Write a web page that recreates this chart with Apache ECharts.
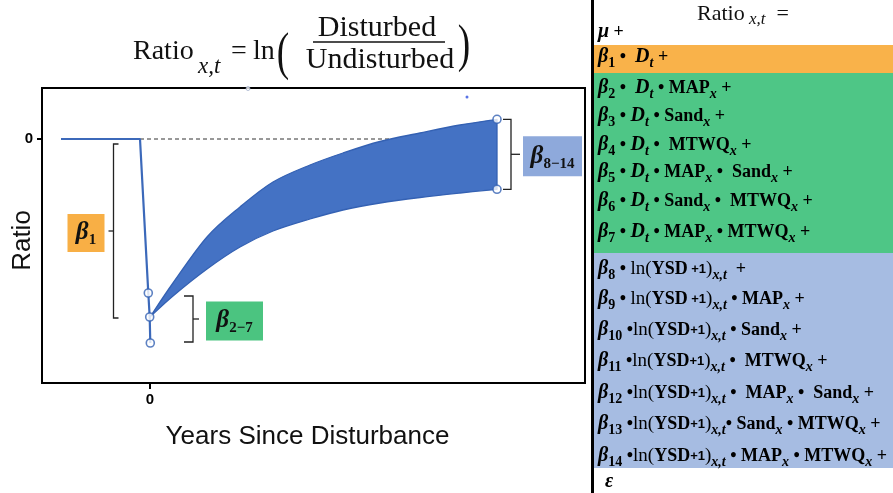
<!DOCTYPE html>
<html><head><meta charset="utf-8">
<script src="https://cdn.jsdelivr.net/npm/echarts@6/dist/echarts.min.js"></script>
<style>html,body{margin:0;padding:0;background:#fff}#c{width:893px;height:493px}</style>
</head><body><div id="c"></div>
<script>
// ---------- data ----------
const xTickValues = [0];
const yTickValues = [0];
const preYears = [-8.9, -1.0, -0.17, -0.03, 0.03];
const preRatio = [0, 0, -1.54, -1.78, -2.04];
const bandYears = [0, 2.3, 5.7, 9.0, 12.3, 16.0, 19.3, 23.0, 27.0, 31.0, 34.7];
const upperRatio = [-1.78, -1.44, -0.98, -0.68, -0.43, -0.26, -0.14, -0.025, 0.06, 0.14, 0.197];
const lowerRatio = [-1.78, -1.57, -1.30, -1.08, -0.92, -0.80, -0.71, -0.64, -0.585, -0.54, -0.503];
const markerYears = [-0.17, -0.03, 0.03, 34.7, 34.7];
const markerRatio = [-1.54, -1.78, -2.04, 0.197, -0.503];
const zeroLineYears = [-1.0, 34.7];
const bracketYears = [-3.65, 4.3, 36.1];
const bracketTop = [-0.05, -1.57, 0.197];
const bracketBottom = [-1.79, -2.03, -0.503];
const bracketSub = ['1', '2\u22127', '8\u221214'];
const strayDotYears = [31.7];
const strayDotRatio = [0.42];
const strayRingYears = [9.8];
const strayRingRatio = [0.505];

// ---------- styles ----------
const SERIF = '"Liberation Serif", "Times New Roman", serif';
const SANS = '"Liberation Sans", Arial, sans-serif';
const bracketStyle = [
  {dir: 1, serif: 5, tick: 5, gap: 4, w: 37, h: 38, color: '#F8AF45'},
  {dir: -1, serif: 9, tick: 6, gap: 7, w: 57, h: 39, color: '#4BC480'},
  {dir: -1, serif: 8, tick: 9, gap: 3, w: 59, h: 40, color: '#8EA9DB'}
];
const blueFill = '#4472C4';
const blueEdge = '#3461B3';

const zip = (a, b) => a.map((v, i) => [v, b[i]]);

// smooth path through pixel points (Catmull-Rom -> cubic Bezier)
function smoothSegs(pts) {
  let d = '';
  for (let i = 0; i < pts.length - 1; i++) {
    const p0 = pts[Math.max(i - 1, 0)], p1 = pts[i], p2 = pts[i + 1], p3 = pts[Math.min(i + 2, pts.length - 1)];
    const c1 = [p1[0] + (p2[0] - p0[0]) / 6, p1[1] + (p2[1] - p0[1]) / 6];
    const c2 = [p2[0] - (p3[0] - p1[0]) / 6, p2[1] - (p3[1] - p1[1]) / 6];
    d += ' C' + c1[0] + ',' + c1[1] + ' ' + c2[0] + ',' + c2[1] + ' ' + p2[0] + ',' + p2[1];
  }
  return d;
}

const chart = echarts.init(document.getElementById('c'), null, {renderer: 'canvas', width: 893, height: 493});

// right-panel rich text
const rowRich = {
  g: {fontFamily: SERIF, fontWeight: 'bold', fontStyle: 'italic', fontSize: 20, lineHeight: 26, fill: '#000'},
  n: {fontFamily: SERIF, fontWeight: 'bold', fontSize: 18, lineHeight: 26, fill: '#000'},
  r: {fontFamily: SERIF, fontSize: 19, lineHeight: 26, fill: '#000'},
  p: {fontFamily: SANS, fontWeight: 'bold', fontSize: 13, lineHeight: 26, fill: '#000'},
  sn: {fontFamily: SERIF, fontWeight: 'bold', fontSize: 14, verticalAlign: 'bottom', fill: '#000'},
  si: {fontFamily: SERIF, fontWeight: 'bold', fontStyle: 'italic', fontSize: 14, verticalAlign: 'bottom', fill: '#000'}
};
const t = (s, txt) => '{' + s + '|' + txt + '}';
const lnTerm = (sp) => t('r', 'ln(') + t('n', 'YSD') + t('p', sp + '+1') + t('r', ')') + t('si', 'x,t');
const D = t('g', 'D') + t('si', 't');
const B = (k) => t('g', '\u03B2') + t('sn', k);
const rows = [
  {y: 32, x: 598, text: t('g', '\u03BC') + t('n', ' +')},
  {y: 57, x: 598, text: B('1') + t('n', ' \u2022  ') + D + t('n', ' +')},
  {y: 88, x: 598, text: B('2') + t('n', ' \u2022  ') + D + t('n', ' \u2022 MAP') + t('si', 'x') + t('n', ' +')},
  {y: 116, x: 598, text: B('3') + t('n', ' \u2022 ') + D + t('n', ' \u2022 Sand') + t('si', 'x') + t('n', ' +')},
  {y: 145, x: 598, text: B('4') + t('n', ' \u2022 ') + D + t('n', ' \u2022  MTWQ') + t('si', 'x') + t('n', ' +')},
  {y: 172, x: 598, text: B('5') + t('n', ' \u2022 ') + D + t('n', ' \u2022 MAP') + t('si', 'x') + t('n', ' \u2022  Sand') + t('si', 'x') + t('n', ' +')},
  {y: 201, x: 598, text: B('6') + t('n', ' \u2022 ') + D + t('n', ' \u2022 Sand') + t('si', 'x') + t('n', ' \u2022  MTWQ') + t('si', 'x') + t('n', ' +')},
  {y: 232, x: 598, text: B('7') + t('n', ' \u2022 ') + D + t('n', ' \u2022 MAP') + t('si', 'x') + t('n', ' \u2022 MTWQ') + t('si', 'x') + t('n', ' +')},
  {y: 269, x: 598, text: B('8') + t('n', ' \u2022 ') + lnTerm(' ') + t('n', '  +')},
  {y: 299, x: 598, text: B('9') + t('n', ' \u2022 ') + lnTerm(' ') + t('n', ' \u2022 MAP') + t('si', 'x') + t('n', ' +')},
  {y: 330, x: 598, text: B('10') + t('n', ' \u2022') + lnTerm('') + t('n', ' \u2022 Sand') + t('si', 'x') + t('n', ' +')},
  {y: 361, x: 598, text: B('11') + t('n', ' \u2022') + lnTerm('') + t('n', ' \u2022  MTWQ') + t('si', 'x') + t('n', ' +')},
  {y: 393, x: 598, text: B('12') + t('n', ' \u2022') + lnTerm('') + t('n', ' \u2022  MAP') + t('si', 'x') + t('n', ' \u2022  Sand') + t('si', 'x') + t('n', ' +')},
  {y: 424, x: 598, text: B('13') + t('n', ' \u2022') + lnTerm('') + t('n', '\u2022 Sand') + t('si', 'x') + t('n', ' \u2022 MTWQ') + t('si', 'x') + t('n', ' +')},
  {y: 456, x: 598, text: B('14') + t('n', ' \u2022') + lnTerm('') + t('n', ' \u2022 MAP') + t('si', 'x') + t('n', ' \u2022 MTWQ') + t('si', 'x') + t('n', ' +')},
  {y: 482, x: 605, text: t('g', '\u03B5')}
];

const txt = (x, y, s, extra) => ({type: 'text', silent: true,
  style: Object.assign({x: x, y: y, text: s, verticalAlign: 'middle', fontFamily: SERIF, fontSize: 28, fill: '#111'}, extra || {})});

const graphics = [
  {type: 'rect', shape: {x: 594, y: 45, width: 299, height: 28}, style: {fill: '#F9B24A'}, silent: true},
  {type: 'rect', shape: {x: 594, y: 73, width: 299, height: 180}, style: {fill: '#4EC686'}, silent: true},
  {type: 'rect', shape: {x: 594, y: 253, width: 299, height: 215}, style: {fill: '#A6BCE2'}, silent: true},
  {type: 'rect', shape: {x: 591, y: 0, width: 3, height: 493}, style: {fill: '#000'}, silent: true},
  // right panel heading
  {type: 'text', silent: true, style: {x: 697, y: 14, verticalAlign: 'middle',
    text: '{a|Ratio}{s| x,t}{a|  =}',
    rich: {a: {fontFamily: SERIF, fontSize: 22, lineHeight: 28, fill: '#111'},
           s: {fontFamily: SERIF, fontStyle: 'italic', fontSize: 17, verticalAlign: 'bottom', fill: '#111'}}}},
  // main formula
  txt(133, 52, 'Ratio'),
  txt(198, 67, 'x,t', {fontStyle: 'italic', fontSize: 23}),
  txt(231, 52, '='),
  txt(253, 52, 'ln'),
  {type: 'text', silent: true, x: 283, y: 55, scaleX: 0.72,
   style: {x: 0, y: 0, align: 'center', verticalAlign: 'middle', text: '(', fontFamily: SERIF, fontSize: 52, fill: '#111'}},
  {type: 'text', silent: true, x: 464, y: 47, scaleX: 0.72,
   style: {x: 0, y: 0, align: 'center', verticalAlign: 'middle', text: ')', fontFamily: SERIF, fontSize: 52, fill: '#111'}},
  txt(377, 28, 'Disturbed', {align: 'center', fontSize: 30}),
  txt(380, 60, 'Undisturbed', {align: 'center', fontSize: 30}),
  {type: 'line', silent: true, shape: {x1: 313, y1: 42, x2: 445, y2: 42}, style: {stroke: '#111', lineWidth: 1.5}}
].concat(rows.map(r => ({type: 'text', silent: true, z: 10,
  style: {x: r.x, y: r.y, verticalAlign: 'middle', text: r.text, rich: rowRich}})));

const option = {
  animation: false,
  backgroundColor: '#fff',
  grid: {left: 42, top: 88, width: 543, height: 295, show: true, borderColor: '#000', borderWidth: 2,
         backgroundColor: 'transparent', containLabel: false, outerBoundsMode: 'none'},
  xAxis: {
    type: 'value', min: -10.8, max: 43.5,
    axisLine: {show: true, onZero: false, lineStyle: {color: '#000', width: 2}},
    axisTick: {show: true, customValues: xTickValues, length: 6, lineStyle: {color: '#000', width: 2}},
    axisLabel: {customValues: xTickValues, margin: 9, fontSize: 15, fontWeight: 'bold', color: '#000', fontFamily: SANS},
    splitLine: {show: false},
    name: 'Years Since Disturbance', nameLocation: 'middle', nameGap: 41, nameMoveOverlap: false,
    nameTextStyle: {fontSize: 26, color: '#111', fontFamily: SANS, padding: [0, 12, 0, 0]}
  },
  yAxis: {
    type: 'value', min: -2.44, max: 0.51,
    axisLine: {show: true, onZero: false, lineStyle: {color: '#000', width: 2}},
    axisTick: {show: true, customValues: yTickValues, length: 5, lineStyle: {color: '#000', width: 2}},
    axisLabel: {customValues: yTickValues, margin: 9, fontSize: 15, fontWeight: 'bold', color: '#000', fontFamily: SANS},
    splitLine: {show: false},
    name: 'Ratio', nameLocation: 'middle', nameGap: 6, nameMoveOverlap: false,
    nameTextStyle: {fontSize: 26, color: '#111', fontFamily: SANS, padding: [0, 10, 0, 0]}
  },
  graphic: graphics,
  series: [
    {type: 'line', name: 'zero', data: zip(zeroLineYears, [0, 0]), symbol: 'none', silent: true, z: 1,
     lineStyle: {color: '#333', width: 1, type: [4, 3]}},
    {type: 'custom', name: 'band', z: 3, silent: true, clip: false,
     data: [[bandYears[0], upperRatio[0]]],
     renderItem: function (params, api) {
       const up = bandYears.map((x, i) => api.coord([x, upperRatio[i]]));
       const lo = bandYears.map((x, i) => api.coord([x, lowerRatio[i]])).reverse();
       const d = 'M' + up[0][0] + ',' + up[0][1] + smoothSegs(up) +
                 ' L' + lo[0][0] + ',' + lo[0][1] + smoothSegs(lo) + ' Z';
       return {type: 'path', shape: {pathData: d}, style: {fill: blueFill, stroke: blueEdge, lineWidth: 1.3, lineJoin: 'round'}};
     }},
    {type: 'line', name: 'pre', data: zip(preYears, preRatio), symbol: 'none', z: 4,
     lineStyle: {color: '#3C69BA', width: 2.2}},
    {type: 'scatter', name: 'markers', data: zip(markerYears, markerRatio), symbol: 'circle', symbolSize: 8, z: 6,
     itemStyle: {color: '#fff', borderColor: '#3461B3', borderWidth: 1.6}},
    {type: 'scatter', name: 'strayDot', data: zip(strayDotYears, strayDotRatio), symbol: 'circle', symbolSize: 3, z: 6,
     itemStyle: {color: '#3050E0'}},
    {type: 'scatter', name: 'strayRing', data: zip(strayRingYears, strayRingRatio), symbol: 'circle', symbolSize: 4, z: 6,
     itemStyle: {color: '#fff', borderColor: '#8899bb', borderWidth: 0.8}},
    {type: 'custom', name: 'brackets', z: 7, silent: true, clip: false,
     data: bracketYears.map((x, i) => [x, bracketTop[i], bracketBottom[i]]),
     renderItem: function (params, api) {
       const i = params.dataIndex;
       const s = bracketStyle[i];
       const top = api.coord([api.value(0), api.value(1)]);
       const bot = api.coord([api.value(0), api.value(2)]);
       const x = top[0];
       const mid = (top[1] + bot[1]) / 2;
       const tipX = x - s.dir * s.tick;
       const boxX = s.dir > 0 ? tipX - s.gap - s.w : tipX + s.gap;
       const boxY = mid + 2 - s.h / 2;
       return {type: 'group', children: [
         {type: 'polyline', shape: {points: [[x + s.dir * s.serif, top[1]], [x, top[1]], [x, bot[1]], [x + s.dir * s.serif, bot[1]]]},
          style: {stroke: '#222', lineWidth: 1.3, fill: null}},
         {type: 'line', shape: {x1: x, y1: mid, x2: tipX, y2: mid}, style: {stroke: '#222', lineWidth: 1.3}},
         {type: 'rect', shape: {x: boxX, y: boxY, width: s.w, height: s.h}, style: {fill: s.color}},
         {type: 'text', style: {x: boxX + s.w / 2, y: boxY + s.h / 2, align: 'center', verticalAlign: 'middle',
           text: '{b|\u03B2}{s|' + bracketSub[i] + '}',
           rich: {b: {fontFamily: SERIF, fontWeight: 'bold', fontStyle: 'italic', fontSize: 25, lineHeight: 30, fill: '#111'},
                  s: {fontFamily: SERIF, fontWeight: 'bold', fontSize: 15, verticalAlign: 'bottom', fill: '#111'}}}}
       ]};
     }}
  ]
};
chart.setOption(option);
</script></body></html>
